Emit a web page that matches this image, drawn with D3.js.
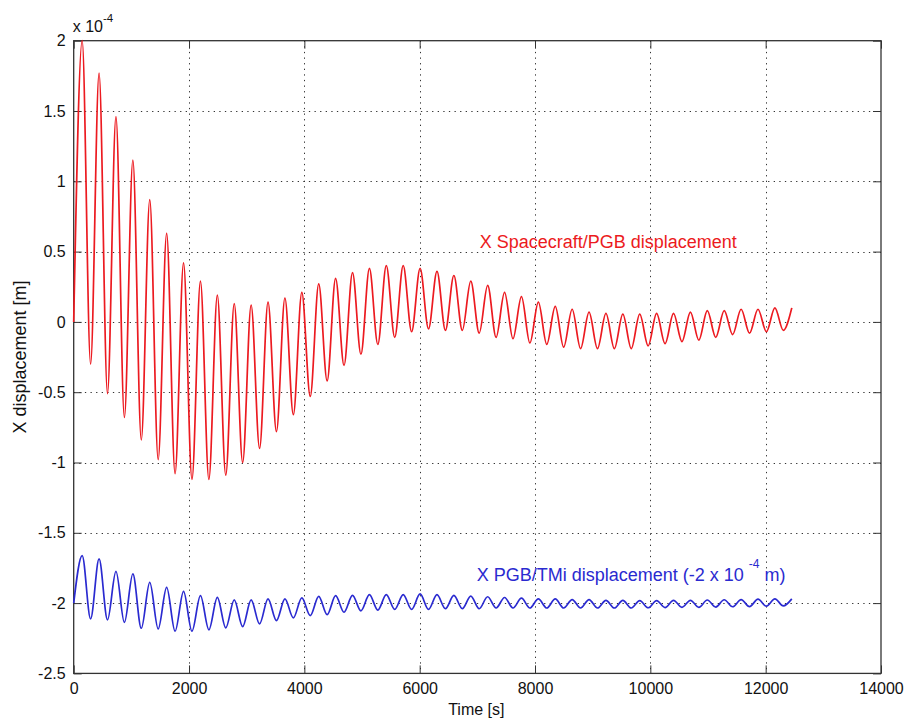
<!DOCTYPE html>
<html>
<head>
<meta charset="utf-8">
<script src="https://cdn.jsdelivr.net/npm/d3@7"></script>
<style>
  body { margin: 0; background: #fff; }
  text { font-family: "Liberation Sans", Arial, Helvetica, sans-serif; fill: #111; }
</style>
</head>
<body>
<svg id="chart" width="905" height="720"></svg>
<script>
// Times [s] of successive turning points (start, then peak / trough alternately)
const extremaTimes = [
  0, 147, 293, 440, 586, 733, 879, 1026, 1172, 1319,
  1465, 1612, 1758, 1905, 2051, 2198, 2344, 2491, 2637, 2784,
  2930, 3077, 3223, 3370, 3516, 3663, 3809, 3956, 4102, 4249,
  4395, 4542, 4688, 4835, 4981, 5128, 5274, 5421, 5567, 5714,
  5860, 6007, 6153, 6300, 6446, 6593, 6739, 6886, 7032, 7179,
  7325, 7472, 7618, 7765, 7911, 8058, 8204, 8351, 8497, 8644,
  8790, 8937, 9083, 9230, 9376, 9523, 9669, 9816, 9962, 10109,
  10255, 10402, 10548, 10695, 10841, 10988, 11134, 11281, 11427, 11574,
  11720, 11867, 12013, 12160, 12306, 12453
];

// X Spacecraft/PGB displacement (units of 1e-4 m)
const scStart = 0;
const scPeaks = [
  2.0, 1.77, 1.46, 1.15, 0.87, 0.63, 0.42, 0.29, 0.19, 0.13,
  0.12, 0.14, 0.17, 0.21, 0.27, 0.31, 0.35, 0.38, 0.40, 0.40,
  0.38, 0.36, 0.33, 0.29, 0.26, 0.21, 0.18, 0.14, 0.11, 0.09,
  0.07, 0.06, 0.055, 0.055, 0.06, 0.06, 0.07, 0.08, 0.08, 0.09,
  0.09, 0.10, 0.10
];
const scTroughs = [
  -0.30, -0.51, -0.68, -0.84, -0.98, -1.08, -1.12, -1.12, -1.09, -1.00,
  -0.90, -0.78, -0.66, -0.53, -0.42, -0.31, -0.23, -0.16, -0.11, -0.07,
  -0.05, -0.06, -0.06, -0.08, -0.11, -0.12, -0.15, -0.16, -0.18, -0.19,
  -0.19, -0.19, -0.19, -0.17, -0.155, -0.14, -0.13, -0.11, -0.09, -0.08,
  -0.07, -0.06
];

// X PGB/TMi displacement, shifted by -2e-4 m (units of 1e-4 m)
const tmStart = -2;
const tmPeaks = [
  -1.662, -1.686, -1.774, -1.792, -1.852, -1.888, -1.916, -1.947, -1.959, -1.977,
  -1.977, -1.970, -1.970, -1.963, -1.952, -1.947, -1.945, -1.94, -1.94, -1.94,
  -1.935, -1.94, -1.945, -1.95, -1.955, -1.96, -1.965, -1.97, -1.97, -1.975,
  -1.975, -1.98, -1.98, -1.982, -1.982, -1.98, -1.98, -1.978, -1.976, -1.975,
  -1.972, -1.97, -1.97
];
const tmTroughs = [
  -2.112, -2.119, -2.137, -2.179, -2.183, -2.20, -2.20, -2.19, -2.176, -2.167,
  -2.148, -2.124, -2.105, -2.089, -2.082, -2.065, -2.055, -2.05, -2.045, -2.045,
  -2.045, -2.04, -2.04, -2.04, -2.035, -2.035, -2.035, -2.035, -2.035, -2.035,
  -2.035, -2.035, -2.035, -2.033, -2.032, -2.03, -2.03, -2.028, -2.026, -2.025,
  -2.022, -2.02
];

const xTicks = [0, 2000, 4000, 6000, 8000, 10000, 12000, 14000];
const yTicks = [-2.5, -2, -1.5, -1, -0.5, 0, 0.5, 1, 1.5, 2];

const svg = d3.select("#chart");
const plotLeft = 73.7, plotRight = 881, plotTop = 40.7, plotBottom = 673.4;

const x = d3.scaleLinear().domain([0, 14000]).range([plotLeft, plotRight]);
const y = d3.scaleLinear().domain([-2.5, 2]).range([plotBottom, plotTop]);

// Interleave start, peaks and troughs into one ordered series
function weave(start, peaks, troughs) {
  const pts = [{ t: extremaTimes[0], v: start }];
  for (let k = 0; k < peaks.length; k++) {
    pts.push({ t: extremaTimes[2 * k + 1], v: peaks[k] });
    if (k < troughs.length) pts.push({ t: extremaTimes[2 * k + 2], v: troughs[k] });
  }
  return pts;
}

// Dotted grid
const grid = svg.append("g").attr("stroke", "#333").attr("stroke-width", 1)
  .attr("stroke-dasharray", "1.3,4.3");
grid.selectAll("line.v").data(xTicks.slice(1, -1)).join("line")
  .attr("class", "v")
  .attr("x1", d => Math.round(x(d)) + 0.5).attr("x2", d => Math.round(x(d)) + 0.5)
  .attr("y1", plotTop).attr("y2", plotBottom);
grid.selectAll("line.h").data(yTicks.slice(1, -1)).join("line")
  .attr("class", "h")
  .attr("y1", d => Math.round(y(d)) + 0.5).attr("y2", d => Math.round(y(d)) + 0.5)
  .attr("x1", plotLeft).attr("x2", plotRight);

// Axes with inward ticks on all four sides
const fontSize = "16px";
const ax = (g) => { g.select(".domain").remove(); g.selectAll("line").attr("stroke", "#333"); g.selectAll("text").attr("font-size", fontSize).attr("fill", "#111"); };
svg.append("g").attr("transform", `translate(0,${plotBottom})`)
  .call(d3.axisBottom(x).tickValues(xTicks).tickSize(-8).tickPadding(9).tickFormat(d => String(d)))
  .call(ax);
svg.append("g").attr("transform", `translate(0,${plotTop})`)
  .call(d3.axisTop(x).tickValues(xTicks).tickSize(-8).tickFormat(""))
  .call(ax);
svg.append("g").attr("transform", `translate(${plotLeft},0)`)
  .call(d3.axisLeft(y).tickValues(yTicks).tickSize(-8).tickPadding(8).tickFormat(d => String(d)))
  .call(ax);
svg.append("g").attr("transform", `translate(${plotRight},0)`)
  .call(d3.axisRight(y).tickValues(yTicks).tickSize(-8).tickFormat(""))
  .call(ax);

// Frame
svg.append("rect").attr("x", plotLeft).attr("y", plotTop)
  .attr("width", plotRight - plotLeft).attr("height", plotBottom - plotTop)
  .attr("fill", "none").attr("stroke", "#333").attr("stroke-width", 1.3);

// Curves
const line = d3.line().x(d => x(d.t)).y(d => y(d.v)).curve(d3.curveMonotoneX);
svg.append("path").datum(weave(scStart, scPeaks, scTroughs))
  .attr("d", line).attr("fill", "none").attr("stroke", "#ec1a20").attr("stroke-width", 1.7);
svg.append("path").datum(weave(tmStart, tmPeaks, tmTroughs))
  .attr("d", line).attr("fill", "none").attr("stroke", "#2a2ad0").attr("stroke-width", 1.7);

// Exponent label
const expo = svg.append("text").attr("x", plotLeft - 1).attr("y", 32).attr("font-size", "16px");
expo.append("tspan").text("x 10");
expo.append("tspan").attr("dy", -10).attr("font-size", "11.5px").text("-4");

// Axis titles
svg.append("text").attr("x", x(7000) - 1).attr("y", 715).attr("text-anchor", "middle")
  .attr("font-size", "16px").text("Time [s]");
svg.append("text").attr("transform", `translate(26,${(plotTop + plotBottom) / 2}) rotate(-90)`)
  .attr("text-anchor", "middle").attr("font-size", "18px").text("X displacement [m]");

// Curve annotations
svg.append("text").attr("x", x(7040)).attr("y", y(0.525))
  .attr("font-size", "18px").style("fill", "#ec1a20").text("X Spacecraft/PGB displacement");
const tmLabel = svg.append("text").attr("x", x(6990)).attr("y", y(-1.84))
  .attr("font-size", "18px").style("fill", "#2a2ad0");
tmLabel.append("tspan").text("X PGB/TMi displacement (-2 x 10 ");
tmLabel.append("tspan").attr("dy", -13).attr("font-size", "12px").text("-4");
tmLabel.append("tspan").attr("dy", 13).text(" m)");
</script>
</body>
</html>
